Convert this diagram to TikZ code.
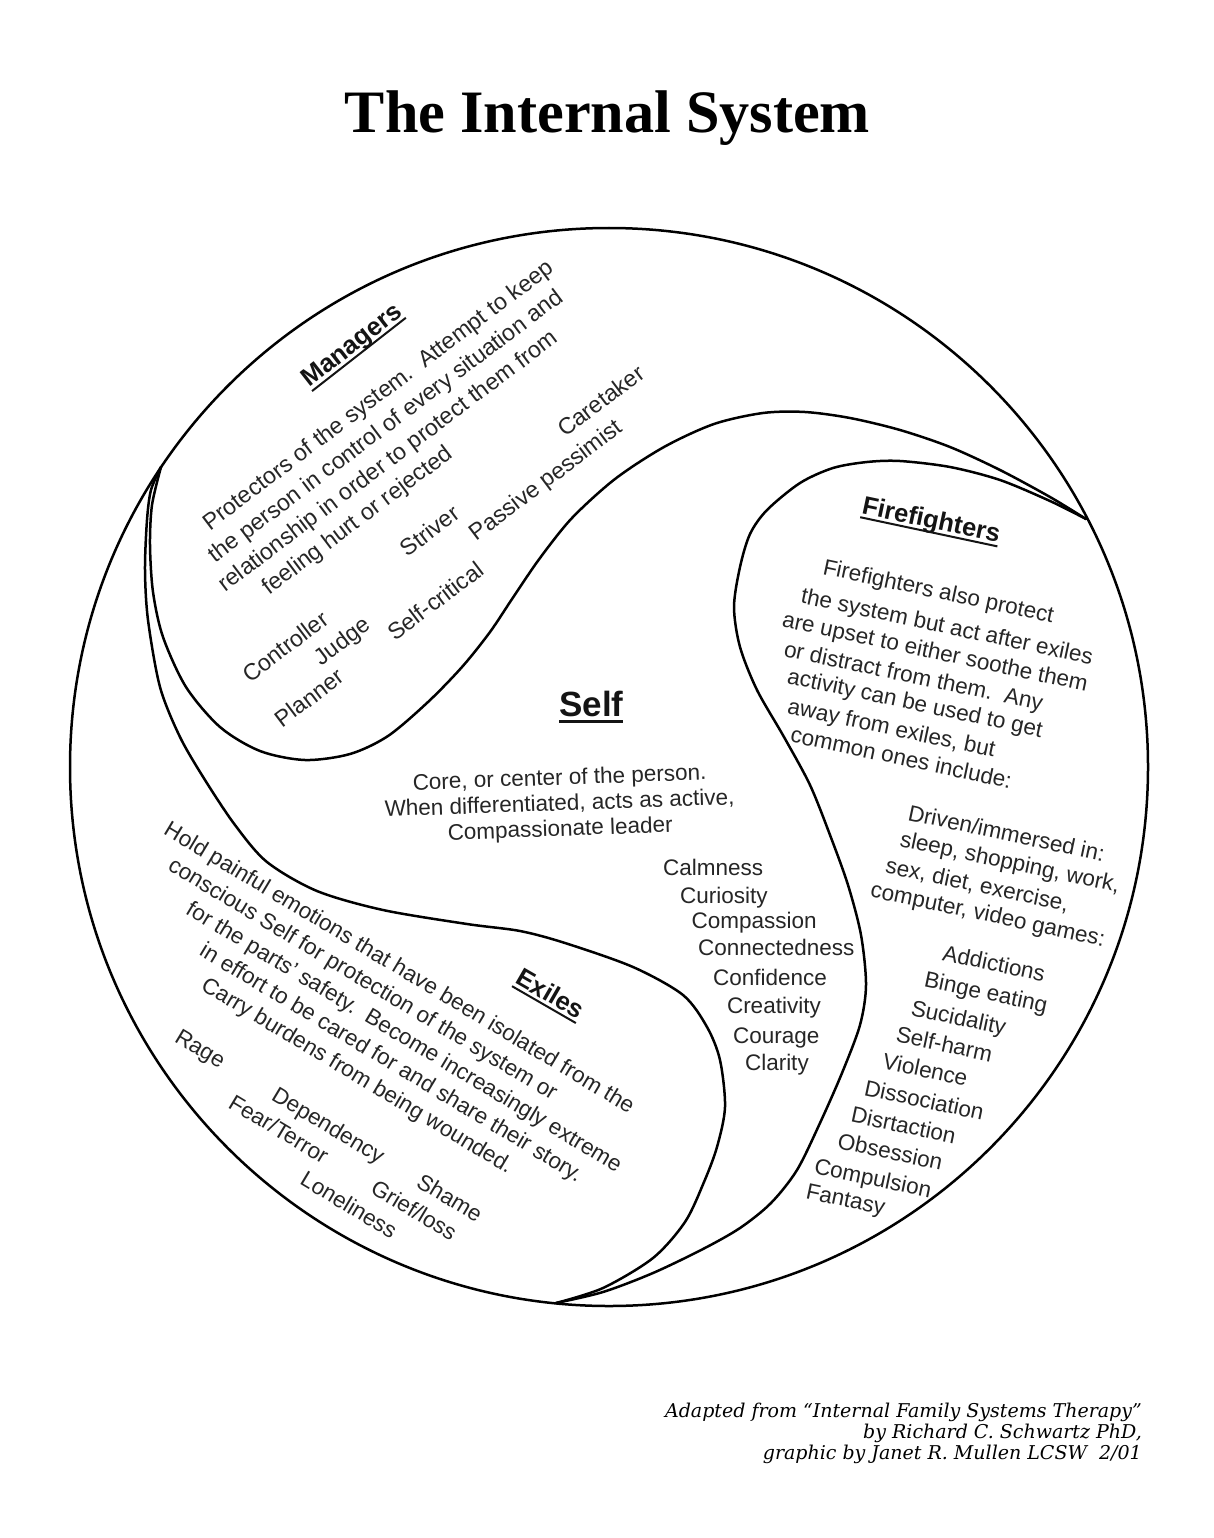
\documentclass[tikz,border=0pt]{standalone}
\usepackage{fontspec}
\setmainfont{Liberation Sans}
\newfontfamily\titlefont{Liberation Serif}
\newfontfamily\footfont{DejaVu Serif}
\newcommand{\ulbox}[3]{\setbox0=\hbox{#3}\leavevmode\rlap{\rule[-#1]{\wd0}{#2}}\box0}
\begin{document}
\begin{tikzpicture}[x=1pt,y=-1pt,
  ln/.style={line width=2.5pt, line join=round, line cap=round},
  txt/.style={inner sep=0pt, outer sep=0pt, anchor=base west, text=black!85, font={\fontsize{22.5}{27}\selectfont}},
  hd/.style={inner sep=0pt, outer sep=0pt, anchor=base west, text=black!92, font={\fontsize{25.5}{30}\selectfont\bfseries}},
  mgtxt/.style={txt, rotate=37, font={\fontsize{23.2}{28}\selectfont}},
  fftxt/.style={txt, rotate=-12},
  extxt/.style={txt, rotate=-31},
  sftxt/.style={txt, rotate=2},
  foot/.style={inner sep=0pt, anchor=base east, text=black, font={\footfont\itshape\fontsize{19}{22}\selectfont}}
]
\useasboundingbox (0,0) rectangle (1214,1538);
\fill[white] (0,0) rectangle (1214,1538);

% title
\node[inner sep=0pt, anchor=base] (title) at (607.5,133) {\resizebox{525pt}{!}{\titlefont\bfseries The Internal System}};

% geometry
\coordinate (O) at (609,767);
\coordinate (P1) at (161,467);
\coordinate (P2) at (1086,519);
\coordinate (P3) at (556,1303);
\draw[ln] (O) circle[radius=539pt];

% Managers curve
\draw[ln] plot[smooth, tension=0.5] coordinates {
 (161,467) (152,505) (150,545) (153,592) (163,637) (186,687) (220,727) (260,751)
 (305,760) (350,754) (388,736) (428,702) (462,667) (490,632) (514,596) (540,558)
 (572,518) (615,479) (664,447) (714,424) (763,413) (805,412) (850,418) (900,430)
 (950,447) (1000,470) (1050,497) (1086,519)};

% Exiles curve
\draw[ln] plot[smooth, tension=0.5] coordinates {
 (161,467) (151,490) (147,520) (145,570) (148,620) (160,687) (180,737) (205,780)
 (235,825) (267,862) (317,891) (383,910) (467,924) (520,931) (565,943) (633,967)
 (683,995) (707,1027) (720,1060) (725,1107) (717,1147) (704,1182) (685,1222)
 (653,1258) (603,1288) (556,1303)};

% Firefighters curve
\draw[ln] plot[smooth, tension=0.5] coordinates {
 (1086,519) (1050,501) (1000,480) (950,467) (900,461) (867,462) (833,468) (800,483)
 (767,510) (750,534) (740,567) (734,607) (740,647) (757,690) (784,737) (810,785)
 (830,835) (848,885) (861,935) (866,985) (860,1025) (842,1073) (820,1123)
 (797,1170) (771,1203) (740,1228) (703,1249) (653,1273) (603,1292) (556,1303)};

% ---------- Managers ----------
\node[hd, rotate=38] (mhd) at (309.6,387.9) {\ulbox{5pt}{2pt}{Managers}};
\node[mgtxt] (m1) at (210,531) {Protectors of the system.\ \ Attempt to keep};
\node[mgtxt] (m2) at (215.5,563.5) {the person in control of every situation and};
\node[mgtxt] (m3) at (225.5,592.5) {relationship in order to protect them from};
\node[mgtxt] (m4) at (269.5,595.5) {feeling hurt or rejected};
\node[mgtxt] (mstriver) at (407.9,557.5) {Striver};
\node[mgtxt] (mcare) at (565,437.9) {Caretaker};
\node[mgtxt] (mpass) at (476.7,541.7) {Passive pessimist};
\node[mgtxt] (mselfc) at (395,641.7) {Self-critical};
\node[mgtxt] (mcontr) at (250,683.3) {Controller};
\node[mgtxt] (mjudge) at (321.7,666) {Judge};
\node[mgtxt] (mplan) at (282.3,728.3) {Planner};

% ---------- Firefighters ----------
\node[hd, rotate=-12] (fhd) at (861,513.3) {\ulbox{5pt}{2pt}{Firefighters}};
\node[fftxt] (f1) at (822,574) {Firefighters also protect};
\node[fftxt] (f2) at (800,602.7) {the system but act after exiles};
\node[fftxt] (f3) at (781.3,626.7) {are upset to either soothe them};
\node[fftxt] (f4) at (783,656) {or distract from them.\ \ Any};
\node[fftxt] (f5) at (786.3,683.3) {activity can be used to get};
\node[fftxt] (f6) at (786.7,713.3) {away from exiles, but};
\node[fftxt] (f7) at (789.7,741.7) {common ones include:};
\node[fftxt] (d1) at (907,820) {Driven/immersed in:};
\node[fftxt] (d2) at (899,846) {sleep, shopping, work,};
\node[fftxt] (d3) at (884.7,872.7) {sex, diet, exercise,};
\node[fftxt] (d4) at (869.7,896.7) {computer, video games:};
\node[fftxt] (i1) at (941.7,960) {Addictions};
\node[fftxt] (i2) at (923.3,986.7) {Binge eating};
\node[fftxt] (i3) at (910,1015) {Sucidality};
\node[fftxt] (i4) at (895,1041.7) {Self-harm};
\node[fftxt] (i5) at (881.7,1068.3) {Violence};
\node[fftxt] (i6) at (863.3,1095) {Dissociation};
\node[fftxt] (i7) at (850,1121.7) {Disrtaction};
\node[fftxt] (i8) at (836.7,1148.3) {Obsession};
\node[fftxt] (i9) at (813.3,1173.3) {Compulsion};
\node[fftxt] (i10) at (805,1198.3) {Fantasy};

% ---------- Self ----------
\node[inner sep=0pt, anchor=base west, text=black!92, font={\fontsize{35}{40}\selectfont\bfseries}] (shd) at (559,716) {\ulbox{6.5pt}{2.6pt}{Self}};
\node[sftxt] (s1) at (413,790) {Core, or center of the person.};
\node[sftxt] (s2) at (385,816.7) {When differentiated, acts as active,};
\node[sftxt] (s3) at (448,840) {Compassionate leader};
\node[txt] (q1) at (663,875) {Calmness};
\node[txt] (q2) at (680,903) {Curiosity};
\node[txt] (q3) at (691.7,928) {Compassion};
\node[txt] (q4) at (698,955) {Connectedness};
\node[txt] (q5) at (713,985) {Confidence};
\node[txt] (q6) at (727,1013) {Creativity};
\node[txt] (q7) at (733,1043) {Courage};
\node[txt] (q8) at (745,1070) {Clarity};

% ---------- Exiles ----------
\node[hd, rotate=-30] (ehd) at (514,982.7) {\ulbox{5pt}{2pt}{Exiles}};
\node[extxt] (e1) at (162.6,833.8) {Hold painful emotions that have been isolated from the};
\node[extxt] (e2) at (166.9,869.6) {conscious Self for protection of the system or};
\node[extxt] (e3) at (184.7,913.5) {for the parts’ safety.\ \ Become increasingly extreme};
\node[extxt] (e4) at (198.3,954.9) {in effort to be cared for and share their story.};
\node[extxt] (e5) at (199.9,989.2) {Carry burdens from being wounded.};
\node[extxt] (erage) at (173.5,1041) {Rage};
\node[extxt] (edep) at (270.4,1099.2) {Dependency};
\node[extxt] (eshame) at (415.2,1186.2) {Shame};
\node[extxt] (efear) at (227.1,1107) {Fear/Terror};
\node[extxt] (egrief) at (369.4,1192.5) {Grief/loss};
\node[extxt] (elone) at (298.8,1183.9) {Loneliness};

% ---------- footer ----------
\node[foot] (ft1) at (1142,1417) {Adapted from “Internal Family Systems Therapy”};
\node[foot] (ft2) at (1142,1438) {by Richard C. Schwartz PhD,};
\node[foot] (ft3) at (1142,1459) {graphic by Janet R. Mullen LCSW\ \ 2/01};
\end{tikzpicture}
\end{document}
